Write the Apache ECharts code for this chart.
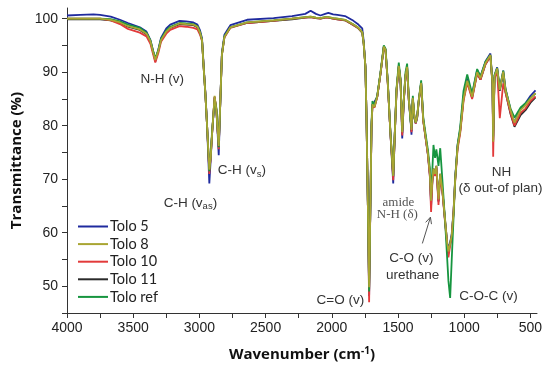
<!DOCTYPE html>
<html>
<head>
<meta charset="utf-8">
<script src="https://cdn.jsdelivr.net/npm/echarts@6/dist/echarts.min.js"></script>
<style>html,body{margin:0;padding:0;background:#fff}#c{width:550px;height:368px}</style>
</head>
<body>
<div id="c"></div>
<script>
// Wavenumbers (cm-1)
const wavenumbers = [
 4000, 3900, 3800, 3750, 3670, 3600, 3540, 3450, 3400, 3370,
 3350, 3333, 3310, 3290, 3250, 3220, 3150, 3100, 3045, 3015,
 2995, 2980, 2968, 2955, 2942, 2925, 2915, 2904, 2885, 2872,
 2862, 2854, 2842, 2830, 2811, 2766, 2640, 2440, 2300, 2200,
 2160, 2120, 2086, 2050, 2026, 1990, 1958, 1900, 1836, 1799,
 1770, 1759, 1746, 1738, 1728, 1718, 1708, 1700, 1693, 1678,
 1657, 1632, 1607, 1594, 1577, 1557, 1536, 1524, 1511, 1494,
 1481, 1468, 1456, 1443, 1431, 1418, 1406, 1398, 1388, 1376,
 1366, 1355, 1343, 1325, 1309, 1292, 1274, 1259, 1250, 1240,
 1232, 1220, 1210, 1194, 1181, 1165, 1144, 1128, 1119, 1106,
 1094, 1080, 1068, 1050, 1030, 1005, 977, 940, 902, 877,
 839, 802, 786, 781, 771, 751, 731, 705, 688, 650,
 620, 574, 537, 499, 461
];

const tolo5 = [
 100.6, 100.7, 100.8, 100.7, 100.4, 99.8, 99.2, 98.4, 97.6, 96.0,
 94.0, 92.0, 94.2, 96.4, 98.2, 98.9, 99.6, 99.5, 99.3, 98.9,
 97.8, 96.3, 91.3, 86.3, 80.0, 69.2, 73.5, 78.6, 85.2, 83.0,
 78.5, 74.5, 84.5, 93.6, 97.0, 98.8, 99.8, 100.1, 100.5, 100.9,
 101.5, 100.9, 100.6, 100.9, 101.1, 100.8, 100.7, 100.5, 99.6, 98.9,
 98.2, 95.8, 91.0, 82.0, 66.0, 48.2, 66.0, 79.8, 83.8, 83.5,
 85.4, 89.8, 94.8, 94.2, 88.0, 78.6, 69.2, 78.6, 86.5, 91.0,
 88.5, 77.6, 84.6, 89.3, 90.8, 84.6, 81.5, 78.3, 85.0, 81.5,
 80.4, 81.5, 84.6, 88.0, 81.0, 77.8, 74.6, 70.6, 65.0, 69.8,
 71.8, 70.8, 72.2, 65.8, 70.8, 68.0, 62.0, 58.0, 57.0, 58.2,
 59.8, 64.2, 70.2, 76.3, 79.3, 85.5, 88.8, 85.8, 90.4, 89.2,
 92.0, 93.5, 88.0, 77.0, 89.4, 90.9, 86.9, 90.3, 86.9, 83.0,
 80.6, 83.2, 84.2, 85.6, 86.6
];

const tolo8 = [
 100.0, 100.0, 100.0, 100.0, 99.8, 99.3, 98.6, 98.0, 97.2, 95.8,
 93.8, 92.3, 94.0, 96.0, 97.6, 98.3, 99.1, 99.0, 98.9, 98.5,
 97.4, 96.0, 91.0, 86.0, 80.0, 71.8, 74.0, 78.6, 85.6, 83.0,
 79.0, 76.2, 84.5, 93.3, 96.6, 98.4, 99.3, 99.7, 100.0, 100.3,
 100.4, 100.2, 100.1, 100.3, 100.3, 100.1, 100.0, 99.8, 98.9, 98.3,
 97.5, 95.4, 91.0, 82.0, 66.0, 49.8, 66.0, 79.8, 84.0, 83.5,
 85.4, 89.8, 94.8, 94.2, 88.0, 78.6, 70.6, 78.6, 86.7, 91.2,
 88.6, 78.8, 84.8, 89.5, 91.0, 84.8, 81.7, 79.2, 85.2, 81.7,
 80.6, 81.7, 84.8, 88.0, 81.0, 78.0, 74.8, 71.0, 66.0, 70.0,
 72.0, 71.0, 72.5, 66.2, 71.0, 68.0, 62.3, 58.0, 56.5, 58.0,
 59.5, 64.0, 70.0, 76.0, 79.0, 85.0, 88.4, 85.4, 90.0, 88.9,
 91.7, 93.2, 87.9, 77.0, 89.2, 90.7, 86.7, 90.1, 86.7, 82.9,
 80.6, 82.9, 83.8, 85.1, 86.1
];

const tolo10 = [
 100.0, 100.0, 100.0, 100.0, 99.7, 99.0, 98.1, 97.4, 96.7, 95.3,
 93.4, 91.8, 93.6, 95.7, 97.2, 97.9, 98.6, 98.5, 98.3, 98.0,
 97.0, 95.8, 91.0, 86.0, 80.0, 71.0, 74.0, 78.6, 85.4, 83.0,
 79.0, 75.6, 84.5, 93.2, 96.5, 98.3, 99.2, 99.6, 100.0, 100.2,
 100.3, 100.1, 100.0, 100.2, 100.2, 100.0, 99.9, 99.7, 98.8, 98.2,
 97.4, 95.3, 91.0, 82.0, 66.0, 47.0, 66.0, 79.6, 83.8, 83.4,
 85.3, 89.7, 94.7, 94.0, 87.8, 78.4, 69.8, 78.4, 86.5, 91.0,
 88.4, 78.2, 84.6, 89.3, 90.8, 84.6, 81.5, 78.8, 85.0, 81.5,
 80.4, 81.5, 84.6, 87.8, 80.8, 77.8, 74.6, 70.4, 63.9, 69.6,
 71.8, 70.6, 72.2, 65.2, 70.6, 67.8, 61.8, 57.4, 55.4, 57.6,
 59.0, 63.8, 69.6, 75.6, 78.6, 84.6, 88.0, 85.0, 89.8, 88.6,
 91.5, 93.0, 87.6, 74.2, 88.8, 90.3, 81.4, 87.9, 86.2, 82.4,
 80.0, 82.4, 83.2, 84.6, 85.5
];

const tolo11 = [
 99.9, 99.9, 99.9, 99.9, 99.7, 99.2, 98.5, 97.9, 97.1, 95.7,
 93.8, 92.4, 94.0, 96.0, 97.6, 98.3, 99.0, 98.9, 98.8, 98.4,
 97.3, 96.0, 91.0, 86.0, 80.0, 71.4, 74.0, 78.6, 85.4, 83.0,
 79.0, 76.0, 84.5, 93.3, 96.6, 98.4, 99.2, 99.6, 99.9, 100.2,
 100.3, 100.1, 100.0, 100.2, 100.2, 100.0, 99.9, 99.7, 98.8, 98.2,
 97.4, 95.3, 91.0, 82.0, 66.0, 49.4, 66.0, 79.8, 84.0, 83.5,
 85.4, 89.8, 94.8, 94.2, 88.0, 78.6, 70.4, 78.6, 86.7, 91.2,
 88.6, 78.6, 84.8, 89.5, 91.0, 84.8, 81.7, 79.0, 85.2, 81.7,
 80.6, 81.7, 84.8, 88.0, 81.0, 78.0, 74.8, 71.0, 65.8, 70.0,
 72.0, 71.0, 72.5, 66.0, 71.0, 68.0, 62.3, 58.0, 56.4, 58.0,
 59.4, 64.0, 70.0, 76.0, 79.0, 85.0, 88.4, 85.2, 89.8, 88.6,
 91.5, 93.0, 87.8, 77.4, 89.0, 90.5, 86.5, 89.8, 86.3, 82.2,
 79.8, 82.0, 82.9, 84.3, 85.3
];

const toloRef = [
 100.0, 100.0, 100.0, 100.0, 99.9, 99.5, 98.9, 98.3, 97.4, 96.0,
 94.0, 92.6, 94.2, 96.2, 97.8, 98.5, 99.2, 99.1, 99.0, 98.6,
 97.5, 96.0, 91.0, 86.0, 80.0, 71.5, 74.5, 79.0, 84.8, 83.4,
 79.4, 76.0, 84.5, 93.3, 96.7, 98.4, 99.3, 99.7, 100.0, 100.3,
 100.4, 100.2, 100.1, 100.3, 100.3, 100.1, 100.0, 99.8, 98.9, 98.3,
 97.5, 95.4, 91.0, 82.0, 66.0, 49.0, 66.0, 80.5, 84.6, 83.8,
 85.6, 90.0, 95.0, 94.4, 88.2, 78.8, 70.6, 78.8, 87.0, 91.8,
 88.8, 79.0, 85.0, 90.0, 91.6, 85.0, 81.0, 79.6, 85.6, 81.5,
 80.6, 81.7, 84.8, 88.5, 81.5, 78.5, 75.5, 72.0, 67.0, 72.0,
 76.4, 74.0, 75.6, 72.5, 75.8, 70.0, 62.0, 55.0, 51.0, 47.8,
 55.0, 63.0, 70.0, 76.4, 79.8, 86.5, 89.6, 86.0, 90.6, 89.2,
 92.0, 93.2, 88.0, 78.0, 89.4, 90.8, 86.8, 90.3, 86.8, 83.2,
 81.5, 83.4, 84.2, 85.2, 86.0
];

const seriesNames = ['Tolo 5', 'Tolo 8', 'Tolo 10', 'Tolo 11', 'Tolo ref'];
const xTickValues = [500, 750, 1000, 1250, 1500, 1750, 2000, 2250, 2500, 2750, 3000, 3250, 3500, 3750, 4000];
const xLabelValues = [500, 1000, 1500, 2000, 2500, 3000, 3500, 4000];
const yTickValues = [45, 50, 55, 60, 65, 70, 75, 80, 85, 90, 95, 100];
const yLabelValues = [50, 60, 70, 80, 90, 100];

// annotations anchored in data coordinates [wavenumber, transmittance]
const annotations = [
  { text: 'N-H (v)', at: [3280, 88.6], align: 'center' },
  { text: 'C-H (v{sub|s})', at: [2862, 71.6], align: 'left' },
  { text: 'C-H (v{sub|as})', at: [3068, 65.5], align: 'center' },
  { text: 'C=O (v)', at: [1935, 47.3], align: 'center' },
  { text: 'amide', at: [1497, 65.6], align: 'center', serif: true },
  { text: 'N-H (\u03b4)', at: [1505, 63.4], align: 'center', serif: true },
  { text: 'C-O (v)', at: [1398, 55.2], align: 'center' },
  { text: 'urethane', at: [1390, 52.0], align: 'center' },
  { text: 'C-O-C (v)', at: [816, 48.1], align: 'center' },
  { text: 'NH', at: [718, 71.3], align: 'center' },
  { text: '(\u03b4 out-of plan)', at: [726, 68.3], align: 'center' }
];
const arrowFrom = [1316, 58.0];
const arrowTo = [1255, 62.9];

const colors = {
  'Tolo 5': '#1f2a9e',
  'Tolo 8': '#a9a532',
  'Tolo 10': '#e23a3a',
  'Tolo 11': '#2a2a2a',
  'Tolo ref': '#16953f'
};
const seriesData = {
  'Tolo 5': tolo5, 'Tolo 8': tolo8, 'Tolo 10': tolo10, 'Tolo 11': tolo11, 'Tolo ref': toloRef
};
const drawOrder = ['Tolo 11', 'Tolo 5', 'Tolo 10', 'Tolo ref', 'Tolo 8'];

const chart = echarts.init(document.getElementById('c'), null, { renderer: 'canvas' });

const series = drawOrder.map(name => ({
  name: name,
  type: 'line',
  symbol: 'none',
  smooth: false,
  data: wavenumbers.map((w, i) => [w, seriesData[name][i]]),
  lineStyle: { width: 1.8, color: colors[name] },
  itemStyle: { color: colors[name] },
  z: 2
}));

const labelFont = 'Liberation Sans, Arial, sans-serif';

chart.setOption({
  animation: false,
  backgroundColor: '#fff',
  grid: { left: 67, right: 13, top: 8, bottom: 55, containLabel: false },
  legend: {
    data: seriesNames,
    orient: 'vertical',
    left: 73,
    top: 214,
    icon: 'rect',
    itemWidth: 30,
    itemHeight: 2,
    itemGap: 2.6,
    textStyle: { fontFamily: 'Lato, sans-serif', fontSize: 14.5, color: '#222', lineHeight: 14, padding: [0, 0, 0, -3] }
  },
  xAxis: {
    type: 'value',
    inverse: true,
    min: 450,
    max: 4000,
    name: 'Wavenumber (cm{sup|-1})',
    nameLocation: 'middle',
    nameGap: 33,
    nameTextStyle: {
      fontFamily: 'Open Sans, sans-serif', fontWeight: 'bold', fontSize: 15, color: '#111',
      rich: { sup: { fontFamily: 'Open Sans, sans-serif', fontWeight: 'bold', fontSize: 10, color: '#111', padding: [0, 0, 8, 0] } }
    },
    splitLine: { show: false },
    axisLine: { show: true, onZero: false, lineStyle: { color: '#333', width: 1 } },
    axisTick: { show: true, inside: false, length: 5, customValues: xTickValues, lineStyle: { color: '#333' } },
    axisLabel: { customValues: xLabelValues, formatter: v => String(v), fontFamily: labelFont, fontSize: 14, color: '#222', margin: 8 }
  },
  yAxis: {
    type: 'value',
    min: 45,
    max: 102,
    name: 'Transmittance (%)',
    nameLocation: 'middle',
    nameGap: 43,
    nameTextStyle: { fontFamily: 'Open Sans, sans-serif', fontWeight: 'bold', fontSize: 15, color: '#111' },
    splitLine: { show: false },
    axisLine: { show: true, onZero: false, lineStyle: { color: '#333', width: 1 } },
    axisTick: { show: true, inside: false, length: 5, customValues: yTickValues, lineStyle: { color: '#333' } },
    axisLabel: { customValues: yLabelValues, formatter: v => String(v), fontFamily: labelFont, fontSize: 14, color: '#222', margin: 9 }
  },
  series: series
});

// annotations as text placed via the chart's coordinate conversion
const graphics = annotations.map(a => {
  const p = chart.convertToPixel({ gridIndex: 0 }, a.at);
  return {
    type: 'text',
    x: p[0], y: p[1],
    z: 100,
    style: {
      text: a.text,
      align: a.align,
      verticalAlign: 'middle',
      fontFamily: a.serif ? 'Liberation Serif, Times New Roman, serif' : labelFont,
      fontSize: a.serif ? 13 : 13.5,
      fill: a.serif ? '#555' : '#333',
      rich: {
        sub: { fontFamily: labelFont, fontSize: 9.5, fill: '#333', padding: [7, 0, 0, 0] }
      }
    }
  };
});
const pA = chart.convertToPixel({ gridIndex: 0 }, arrowFrom);
const pB = chart.convertToPixel({ gridIndex: 0 }, arrowTo);
const ang = Math.atan2(pB[1] - pA[1], pB[0] - pA[0]);
const headLen = 7, headAng = 0.45;
graphics.push({
  type: 'polyline', z: 100,
  shape: { points: [pA, pB] },
  style: { stroke: '#555', lineWidth: 1, fill: null }
});
graphics.push({
  type: 'polyline', z: 100,
  shape: { points: [
    [pB[0] - headLen * Math.cos(ang - headAng), pB[1] - headLen * Math.sin(ang - headAng)],
    pB,
    [pB[0] - headLen * Math.cos(ang + headAng), pB[1] - headLen * Math.sin(ang + headAng)]
  ] },
  style: { stroke: '#555', lineWidth: 1, fill: null }
});
chart.setOption({ graphic: graphics });
</script>
</body>
</html>
